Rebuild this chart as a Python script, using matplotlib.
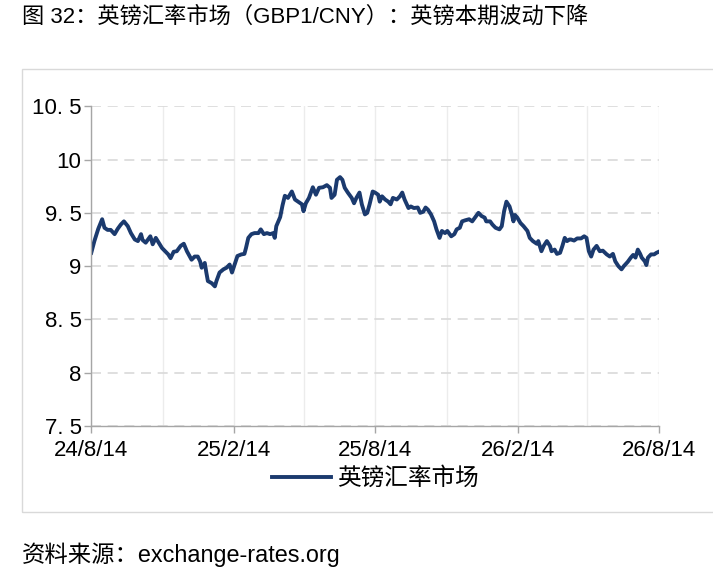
import matplotlib
matplotlib.use("Agg")
import matplotlib.pyplot as plt
from matplotlib.patches import Rectangle
import pandas as pd

plt.rcParams['font.family'] = ['Liberation Sans', 'Noto Sans CJK SC', 'DejaVu Sans']

# GBP1/CNY (days after 2024-08-14)
start_date = "2024-08-14"
day_offsets = [
    0, 4, 9, 14, 17, 21, 25, 30, 34, 38, 42, 47, 51, 56, 60, 64, 66, 70, 76, 79,
    83, 88, 91, 95, 99, 102, 106, 110, 115, 119, 123, 129, 133, 137, 140, 142, 146, 148, 150, 155,
    159, 161, 165, 170, 174, 178, 181, 185, 188, 193, 197, 199, 202, 206, 210, 215, 218, 222, 226, 230,
    234, 236, 238, 243, 246, 249, 253, 258, 262, 266, 271, 273, 276, 280, 285, 289, 293, 298, 303, 307,
    309, 313, 316, 320, 323, 326, 330, 335, 338, 341, 345, 348, 352, 355, 358, 362, 365, 369, 371, 374,
    378, 382, 385, 388, 393, 397, 400, 403, 408, 411, 415, 420, 423, 427, 430, 433, 437, 441, 444, 448,
    451, 455, 458, 463, 467, 470, 474, 477, 481, 486, 490, 492, 498, 502, 506, 508, 513, 516, 520, 525,
    528, 531, 534, 538, 541, 543, 545, 548, 552, 556, 561, 564, 568, 573, 575, 579, 582, 586, 590, 592,
    596, 599, 603, 606, 609, 612, 615, 617, 621, 625, 630, 634, 637, 640, 643, 646, 650, 654, 658, 663,
    667, 671, 674, 678, 682, 685, 690, 694, 697, 700, 703, 706, 708, 712, 714, 716, 720, 724, 727, 730,
]
gbp_cny = [
    9.125, 9.235, 9.35, 9.44, 9.36, 9.34, 9.34, 9.30, 9.35, 9.39, 9.42, 9.375, 9.31, 9.25, 9.235, 9.30, 9.245, 9.22, 9.28, 9.205,
    9.265, 9.205, 9.17, 9.14, 9.11, 9.075, 9.135, 9.14, 9.19, 9.21, 9.14, 9.06, 9.09, 9.09, 9.045, 8.985, 9.03, 8.94, 8.86, 8.84,
    8.81, 8.86, 8.94, 8.97, 8.985, 9.015, 8.94, 9.03, 9.095, 9.11, 9.115, 9.17, 9.265, 9.30, 9.31, 9.31, 9.345, 9.30, 9.31, 9.30,
    9.31, 9.265, 9.375, 9.46, 9.57, 9.66, 9.64, 9.70, 9.625, 9.605, 9.58, 9.515, 9.59, 9.64, 9.74, 9.67, 9.735, 9.74, 9.76, 9.735,
    9.64, 9.67, 9.81, 9.835, 9.81, 9.735, 9.69, 9.64, 9.59, 9.64, 9.69, 9.58, 9.485, 9.50, 9.58, 9.70, 9.69, 9.67, 9.605, 9.655,
    9.625, 9.605, 9.58, 9.64, 9.625, 9.655, 9.69, 9.625, 9.545, 9.56, 9.545, 9.55, 9.50, 9.51, 9.55, 9.53, 9.485, 9.42, 9.345, 9.265,
    9.33, 9.31, 9.33, 9.28, 9.30, 9.345, 9.36, 9.42, 9.43, 9.44, 9.42, 9.44, 9.50, 9.47, 9.455, 9.42, 9.42, 9.39, 9.36, 9.345,
    9.375, 9.515, 9.605, 9.56, 9.485, 9.42, 9.48, 9.455, 9.405, 9.375, 9.33, 9.265, 9.235, 9.21, 9.235, 9.14, 9.19, 9.235, 9.19, 9.14,
    9.155, 9.115, 9.125, 9.19, 9.265, 9.235, 9.25, 9.25, 9.24, 9.26, 9.26, 9.28, 9.265, 9.14, 9.09, 9.155, 9.19, 9.14, 9.145, 9.11,
    9.09, 9.115, 9.045, 9.00, 8.97, 9.00, 9.04, 9.08, 9.105, 9.08, 9.155, 9.115, 9.08, 9.045, 9.01, 9.08, 9.11, 9.11, 9.125, 9.135,
]

x_tick_dates = ["2024-08-14", "2025-02-14", "2025-08-14", "2026-02-14", "2026-08-14"]
x_tick_labels = ["24/8/14", "25/2/14", "25/8/14", "26/2/14", "26/8/14"]
x_minor_dates = ["2024-11-14", "2025-05-14", "2025-11-14", "2026-05-14"]
y_ticks = [7.5, 8, 8.5, 9, 9.5, 10, 10.5]
y_tick_labels = ["7. 5", "8", "8. 5", "9", "9. 5", "10", "10. 5"]

dates = pd.Timestamp(start_date) + pd.to_timedelta(day_offsets, unit="D")

fig = plt.figure(figsize=(7.13, 5.70), dpi=100)
ax = fig.add_axes([0.128, 0.2526, 0.796, 0.561])

# outer frame around the chart
fig.patches.append(Rectangle((22 / 713, 1 - 512 / 570), 0.99, (512 - 69) / 570,
                             transform=fig.transFigure, fill=False,
                             edgecolor="#d9d9d9", linewidth=1.0, clip_on=False))

ax.plot(dates, gbp_cny, color="#1b3a6e", linewidth=2.8, label="英镑汇率市场")

ax.set_ylim(7.5, 10.5)
ax.set_yticks(y_ticks, y_tick_labels)
ax.set_xlim(pd.Timestamp(x_tick_dates[0]), pd.Timestamp(x_tick_dates[-1]))
ax.set_xticks(pd.to_datetime(x_tick_dates), x_tick_labels)
ax.set_xticks(pd.to_datetime(x_minor_dates), minor=True)

ax.grid(axis="y", color="#d9d9d9", linestyle=(0, (6, 4)), linewidth=1.2)
ax.grid(axis="x", which="both", color="#ececec", linestyle="-", linewidth=1.0)
ax.set_axisbelow(True)

for side in ["top", "right"]:
    ax.spines[side].set_visible(False)
for side in ["left", "bottom"]:
    ax.spines[side].set_color("#a6a6a6")
    ax.spines[side].set_linewidth(1.0)

ax.tick_params(axis="both", which="major", colors="#a6a6a6", length=5, width=1.0,
               labelcolor="black", labelsize=16)
ax.tick_params(axis="x", which="minor", length=0)
ax.tick_params(axis="x", pad=5)
ax.tick_params(axis="y", pad=2)

ax.legend(loc="center", bbox_to_anchor=(0.5, -0.165), frameon=False,
          fontsize=17, handlelength=2.5, handletextpad=0.25)

fig.text(22 / 713, 1 - 17 / 570, "图 32：英镑汇率市场（GBP1/CNY）：英镑本期波动下降",
         fontsize=16, va="center", ha="left")
fig.text(22 / 713, 1 - 555 / 570, "资料来源：exchange-rates.org",
         fontsize=16.8, va="center", ha="left")

fig.savefig("out.png", dpi=100)
